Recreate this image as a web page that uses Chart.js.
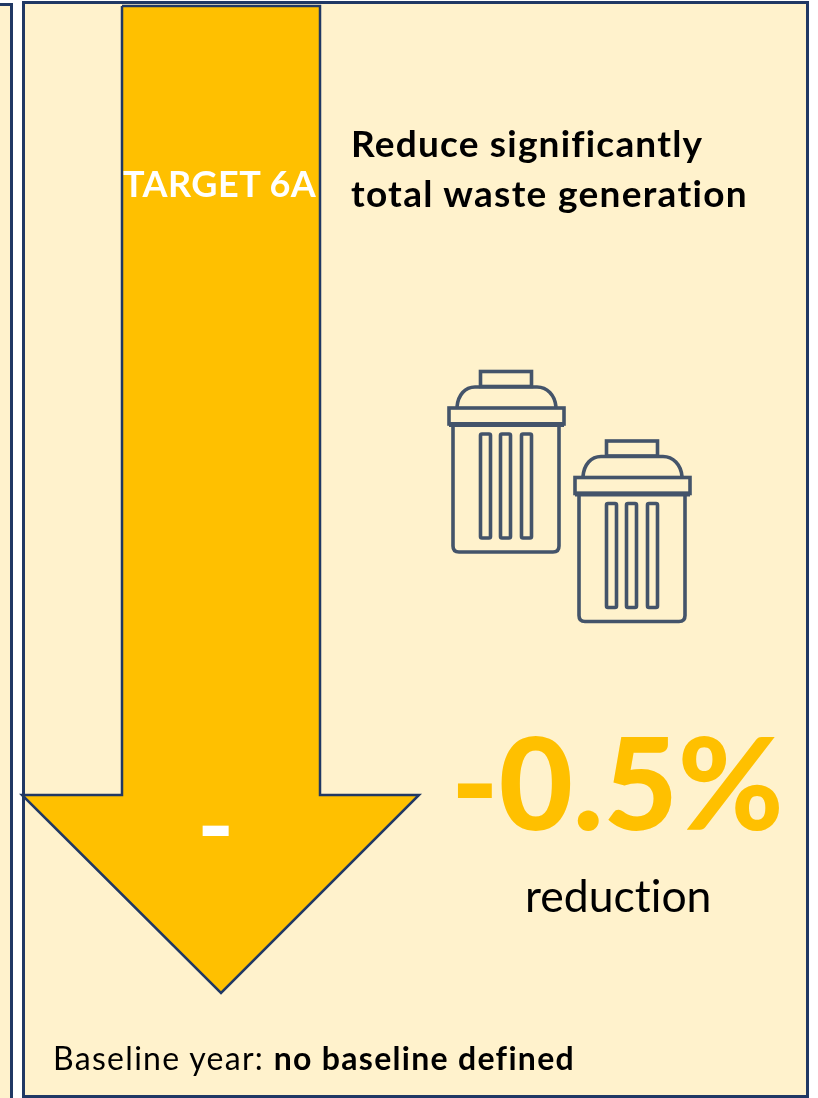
<!DOCTYPE html>
<html>
<head>
<meta charset="utf-8">
<title>Target 6A</title>
<script src="https://cdn.jsdelivr.net/npm/chart.js@4"></script>
<style>
  html, body { margin: 0; padding: 0; background: #fff; }
  #page { position: relative; width: 818px; height: 1098px; overflow: hidden; font-family: Lato, sans-serif; font-variant-ligatures: none; }
  .panel { position: absolute; box-sizing: border-box; background: #fff2cc; border: 3px solid #203864; }
  #arrowChart { position: absolute; left: 0; top: 0; }
  #bins { position: absolute; left: 0; top: 0; }
  .txt { position: absolute; white-space: nowrap; line-height: 1; color: #000; }
  .bold { font-weight: 700; }
</style>
</head>
<body>
<div id="page">
  <div class="panel" style="left:-40px;top:3px;width:53px;height:1110px"></div>
  <div class="panel" style="left:22px;top:1px;width:787px;height:1097px"></div>
  <canvas id="arrowChart" width="818" height="1098"></canvas>
  <svg id="bins" width="818" height="1098" fill="none" stroke="#44546a" stroke-width="3.6">
    <defs>
      <g id="bin">
        <rect x="480.5" y="371.5" width="51" height="15"/>
        <path d="M457 407C458 395 465 387 475 387H537C547 387 555 395 556 407"/>
        <rect x="449" y="408" width="115" height="16"/>
        <path d="M453 425V546Q453 552 459 552H553Q559 552 559 546V425" />
        <path d="M449 424.5H564" stroke-width="5"/>
        <rect x="480.5" y="434" width="10" height="104" rx="1.5"/>
        <rect x="500.5" y="434" width="10" height="104" rx="1.5"/>
        <rect x="521.5" y="434" width="10" height="104" rx="1.5"/>
      </g>
    </defs>
    <use href="#bin"/>
    <use href="#bin" x="126" y="69.5"/>
  </svg>
  <div class="txt bold" id="targetLabel" style="left:123px;top:165px;font-size:36px;letter-spacing:0.5px;color:#fff"></div>
  <div class="txt bold" style="left:351px;top:124px;font-size:37px;letter-spacing:1.2px">Reduce significantly</div>
  <div class="txt bold" style="left:351px;top:174px;font-size:37px;letter-spacing:1.3px">total waste generation</div>
  <div class="txt bold" id="arrowSign" style="left:197px;top:772px;font-size:100px;color:#fff"></div>
  <div class="txt" id="reductionValue" style="left:451px;top:717px;font-size:128px;font-weight:900;color:#ffc000"></div>
  <div class="txt" style="left:525px;top:873px;font-size:44.5px">reduction</div>
  <div class="txt" id="baselineLabel" style="left:53px;top:1042px;font-size:32px;letter-spacing:1.3px"></div>
</div>

<script>
// Chart content
const categories = ['TARGET 6A'];
const reductionValues = [-0.5];
const arrowSigns = ['-'];
const baselineYears = ['no baseline defined'];

// Arrow outline, on the page-sized axes below
const arrowX = [122, 320, 320, 419, 221, 22, 122, 122];
const arrowY = [6, 6, 795, 795, 993, 795, 795, 6];

document.getElementById('targetLabel').textContent = categories[0];
document.getElementById('arrowSign').textContent = arrowSigns[0];
document.getElementById('reductionValue').textContent = reductionValues[0] + '%';
document.getElementById('baselineLabel').innerHTML = 'Baseline year: <span class="bold">' + baselineYears[0] + '</span>';

new Chart(document.getElementById('arrowChart'), {
    type: 'scatter',
    data: {
        datasets: [{
            label: categories[0],
            data: arrowX.map((x, i) => ({ x: x, y: arrowY[i] })),
            showLine: true,
            tension: 0,
            pointRadius: 0,
            borderColor: '#203864',
            borderWidth: 2.5,
            borderJoinStyle: 'miter',
            backgroundColor: '#ffc000',
            fill: 'shape',
            clip: false
        }]
    },
    options: {
        responsive: false,
        animation: false,
        layout: { padding: 0 },
        plugins: {
            legend: { display: false },
            tooltip: { enabled: false }
        },
        scales: {
            x: { type: 'linear', min: 0, max: 818, display: false },
            y: { type: 'linear', min: 0, max: 1098, reverse: true, display: false }
        }
    }
});
</script>
</body>
</html>
